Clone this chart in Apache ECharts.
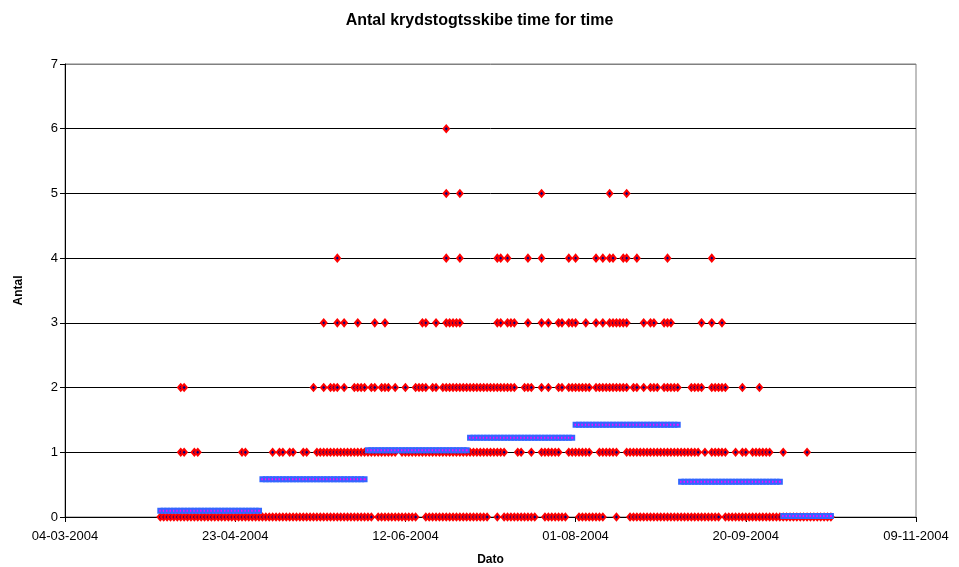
<!DOCTYPE html>
<html>
<head>
<meta charset="utf-8">
<script src="https://cdn.jsdelivr.net/npm/echarts@6/dist/echarts.min.js"></script>
<style>
html,body{margin:0;padding:0;background:#fff;}
#chart{width:959px;height:567px;}
</style>
</head>
<body>
<div id="chart"></div>
<script>
// Day offsets counted from 04-03-2004 (day 0). Each list holds the days on which the hourly count took that value.
const tickLabels = ['04-03-2004','23-04-2004','12-06-2004','01-08-2004','20-09-2004','09-11-2004'];

const level0Days = [28,29,30,31,32,33,34,35,36,37,38,39,40,41,42,43,44,45,46,47,48,49,50,51,52,53,54,55,56,57,58,59,60,61,62,63,64,65,66,67,68,69,70,71,72,73,74,75,76,77,78,79,80,81,82,83,84,85,86,87,88,89,90,
  92,93,94,95,96,97,98,99,100,101,102,103,
  106,107,108,109,110,111,112,113,114,115,116,117,118,119,120,121,122,123,124,
  127,
  129,130,131,132,133,134,135,136,137,138,
  141,142,143,144,145,146,147,
  151,152,153,154,155,156,157,158,
  162,
  166,167,168,169,170,171,172,173,174,175,176,177,178,179,180,181,182,183,184,185,186,187,188,189,190,191,192,
  194,195,196,197,198,199,200,201,202,203,204,205,206,207,208,209,210,211,212,213,214,215,216,217,218,219,220,221,222,223,224,225];

const level1Days = [34,35,38,39,52,53,61,63,64,66,67,70,71,
  74,75,76,77,78,79,80,81,82,83,84,85,86,87,88,89,90,91,92,93,94,95,96,97,
  99,100,101,102,103,104,105,106,107,108,109,110,111,112,113,114,115,116,117,118,119,120,121,122,123,124,125,126,127,128,129,
  133,134,137,
  140,141,142,143,144,145,
  148,149,150,151,152,153,154,
  157,158,159,160,161,162,
  165,166,167,168,169,170,171,172,173,174,175,176,177,178,179,180,181,182,183,184,185,186,
  188,
  190,191,192,193,194,
  197,199,200,
  202,203,204,205,206,207,
  211,218];

const level2Days = [34,35,73,76,78,79,80,82,85,86,87,88,90,91,93,94,95,97,100,103,104,105,106,108,109,
  111,112,113,114,115,116,117,118,119,120,121,122,123,124,125,126,127,128,129,130,131,132,
  135,136,137,140,142,145,146,
  148,149,150,151,152,153,154,
  156,157,158,159,160,161,162,163,164,165,
  167,168,170,172,173,174,
  176,177,178,179,180,
  184,185,186,187,
  190,191,192,193,194,
  199,204];

const level3Days = [76,80,82,86,91,94,105,106,109,112,113,114,115,116,127,128,130,131,132,136,140,142,145,146,148,149,150,153,156,158,160,161,162,163,164,165,170,172,173,176,177,178,187,190,193];

const level4Days = [80,112,116,127,128,130,136,140,148,150,156,158,160,161,164,165,168,177,190];

const level5Days = [112,116,140,160,165];

const level6Days = [112];

// Monthly averages (April .. October 2004)
const monthNames = ['April','Maj','Juni','Juli','August','September','Oktober'];
const monthFirstDay = [28,58,89,119,150,181,211];
const monthLastDay  = [57,88,118,149,180,210,225];
const monthMean     = [0.097,0.583,1.03,1.226,1.427,0.546,0.015];

const levels = [level0Days,level1Days,level2Days,level3Days,level4Days,level5Days,level6Days];
const countData = [];
levels.forEach((days, v) => days.forEach(d => countData.push([d, v])));

const meanData = [];
monthMean.forEach((m, i) => {
  for (let d = monthFirstDay[i]; d <= monthLastDay[i]; d++) meanData.push([d, m]);
});

const font = "'Liberation Sans', Arial, sans-serif";
const chart = echarts.init(document.getElementById('chart'), null, {renderer:'canvas'});
chart.setOption({
  animation: false,
  backgroundColor: '#ffffff',
  title: {
    text: 'Antal krydstogtsskibe time for time',
    left: 'center',
    top: 8,
    textStyle: {fontFamily: font, fontSize: 16, fontWeight: 'bold', color: '#000'}
  },
  grid: {left: 65, right: 43, top: 64, bottom: 50, containLabel: false, outerBoundsMode: 'none',
    show: true, borderColor: '#808080', borderWidth: 1, backgroundColor: 'transparent'},
  xAxis: {
    type: 'value', min: 0, max: 250, interval: 50,
    name: 'Dato', nameLocation: 'middle', nameGap: 37,
    nameTextStyle: {fontFamily: font, fontSize: 12, fontWeight: 'bold', color: '#000'},
    axisLine: {lineStyle: {color: '#000', width: 1}},
    axisTick: {show: true, inside: false, length: 5, lineStyle: {color: '#000'}},
    axisLabel: {fontFamily: font, fontSize: 13, color: '#000', margin: 13,
      formatter: v => tickLabels[Math.round(v / 50)]},
    splitLine: {show: false}
  },
  yAxis: {
    type: 'value', min: 0, max: 7, interval: 1,
    name: 'Antal', nameLocation: 'middle', nameGap: 40, nameRotate: 90,
    nameTextStyle: {fontFamily: font, fontSize: 12, fontWeight: 'bold', color: '#000'},
    axisLine: {show: true, lineStyle: {color: '#000', width: 1}},
    axisTick: {show: true, inside: false, length: 5, lineStyle: {color: '#000'}},
    axisLabel: {fontFamily: font, fontSize: 13, color: '#000', margin: 7},
    splitLine: {show: true, lineStyle: {color: ['#000','#000','#000','#000','#000','#000','#000','#808080'], width: 1}}
  },
  series: [
    {
      name: 'Antal', type: 'scatter', data: countData,
      symbol: 'diamond', symbolSize: [5.5, 6.5],
      itemStyle: {color: '#000080', borderColor: '#ff0000', borderWidth: 2, opacity: 1},
      emphasis: {disabled: true}, z: 2
    },
    {
      name: 'Gennemsnit', type: 'scatter', data: meanData,
      symbol: 'rect', symbolSize: 4,
      itemStyle: {color: '#ff00ff', borderColor: '#3366ff', borderWidth: 2, opacity: 1},
      emphasis: {disabled: true}, z: 3
    }
  ]
});
</script>
</body>
</html>
